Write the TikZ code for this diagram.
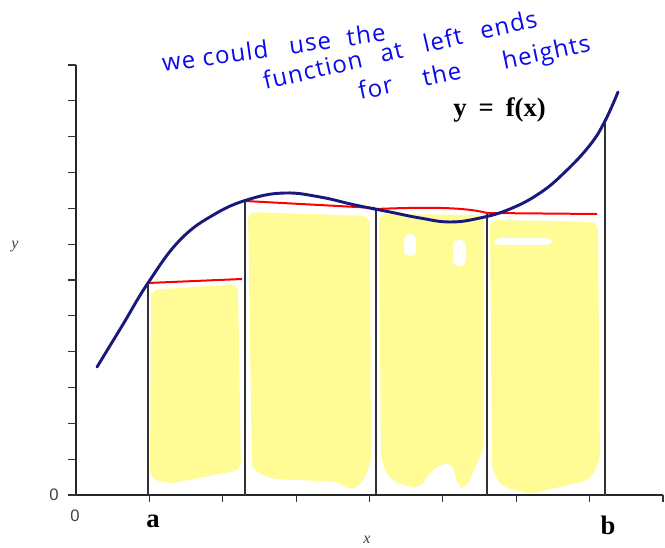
\documentclass[tikz,border=0pt]{standalone}
\usepackage{fontspec}
\setmainfont{Liberation Serif}
\newfontfamily\handfont[LetterSpace=5]{Open Sans}
\newfontfamily\axisfont{Liberation Sans}
\usetikzlibrary{calc}
\definecolor{CurveC}{RGB}{25,25,125}
\definecolor{HiYel}{RGB}{255,252,150}
\definecolor{PenBlue}{RGB}{10,10,235}
\definecolor{EdgeC}{RGB}{50,50,50}
\tikzset{
  ax/.style={line width=1.4pt,black!85},
  axtick/.style={line width=0.9pt,black!80},
  edge/.style={line width=1.1pt,EdgeC},
  curve/.style={line width=2.2pt,CurveC,line cap=round,line join=round},
  lefth/.style={line width=1.5pt,red},
  blob/.style={fill=HiYel,rounded corners=6pt},
  hole/.style={fill=white,rounded corners=4pt},
  hand/.style={PenBlue,font=\handfont\fontsize{18}{20}\selectfont,inner sep=0pt,anchor=base west},
  endlab/.style={font=\bfseries\fontsize{20}{22}\selectfont,inner sep=0pt,anchor=base},
  tlab/.style={font=\axisfont\fontsize{12.5}{14}\selectfont,black!75,inner sep=0pt},
  vlab/.style={font=\itshape\fontsize{12}{14}\selectfont,black!75,inner sep=0pt},
}
\begin{document}
\begin{tikzpicture}[x=0.75pt,y=-0.75pt]
  \useasboundingbox (0,0) rectangle (665,548);
  % highlighter strokes
  \fill[blob] (151,290) -- (238,284) -- (241,470) -- (168,484) -- (150,478) -- cycle;
  \fill[blob] (248,212) -- (370,216) -- (371,462) -- (362,484) -- (349,491) -- (340,482)
              -- (272,479) -- (252,470) -- cycle;
  \fill[blob] (379,214) -- (484,215) -- (484,448) -- (474,470) -- (466,489) -- (458,487)
              -- (452,462) -- (440,465) -- (432,470) -- (420,488) -- (410,487)
              -- (390,480) -- (381,460) -- cycle;
  \fill[blob] (490,220) -- (598,222) -- (600,460) -- (590,480) -- (530,494) -- (502,487)
              -- (492,470) -- cycle;
  \fill[hole] (404,234) rectangle (416,256);
  \fill[hole] (453,240) rectangle (466,266);
  \fill[hole] (494,238) rectangle (552,245);
  % axes
  \coordinate (O) at (76,495);
  \coordinate (ytop) at (76,65);
  \coordinate (xend) at (663,495);
  \draw[ax] (ytop) -- (O) -- (xend);
  \foreach \k in {0,...,12} \draw[axtick] ($(O)+(-8,-35.83*\k)$) -- ++(8,0);
  \foreach \k in {1,...,8} \draw[axtick] ($(O)+(73.375*\k,0)$) -- ++(0,7);
  % rectangle edges and left end heights
  \foreach \i/\xx/\yy in {1/148/283,2/245/201,3/376/209,4/487/213,5/605/123}{
    \coordinate (b\i) at (\xx,495);
    \coordinate (t\i) at (\xx,\yy);
    \draw[edge] (b\i) -- (t\i);
  }
  \coordinate (e1) at (242,279);
  \coordinate (e2) at (375,208);
  \coordinate (e4) at (597,214);
  \draw[lefth] (t1) -- (e1);
  \draw[lefth] (t2) -- (e2);
  \draw[lefth] (t3) .. controls (425,207) and (465,207) .. (t4);
  \draw[lefth] (t4) -- (e4);
  % the function
  \draw[curve] plot[smooth,tension=0.7] coordinates {(97,367) (122,326) (148,283) (180,240)
    (215,214) (250,199) (285,193) (320,197) (355,205) (390,212) (420,218) (450,222)
    (480,218) (510,209) (540,193) (565,172) (590,145) (605,121) (618,92)};
  % labels
  \node[font=\bfseries\fontsize{20}{22}\selectfont,inner sep=0pt,anchor=base west] (fx) at (453,117)
    {y\hspace{4pt} = \hspace{4pt}f(x)};
  \node[endlab] (la) at (153,528) {a};
  \node[endlab] (lb) at (608,535) {b};
  \node[tlab] (zy) at (54,495) {0};
  \node[tlab] (zx) at (75,516) {0};
  \node[vlab] (ly) at (15,247) {y};
  \node[vlab] (lx) at (367,540) {x};
  % handwritten note
  \node[hand,rotate=8] (n1) at (163,72) {we could\hspace{16pt}use\hspace{12pt}the};
  \node[hand,rotate=13] (n2) at (265,90) {function\hspace{14pt}at\hspace{16pt}left\hspace{14pt}ends};
  \node[hand,rotate=12] (n3) at (360,100) {for\hspace{23pt}the\hspace{32pt}heights};
\end{tikzpicture}
\end{document}
